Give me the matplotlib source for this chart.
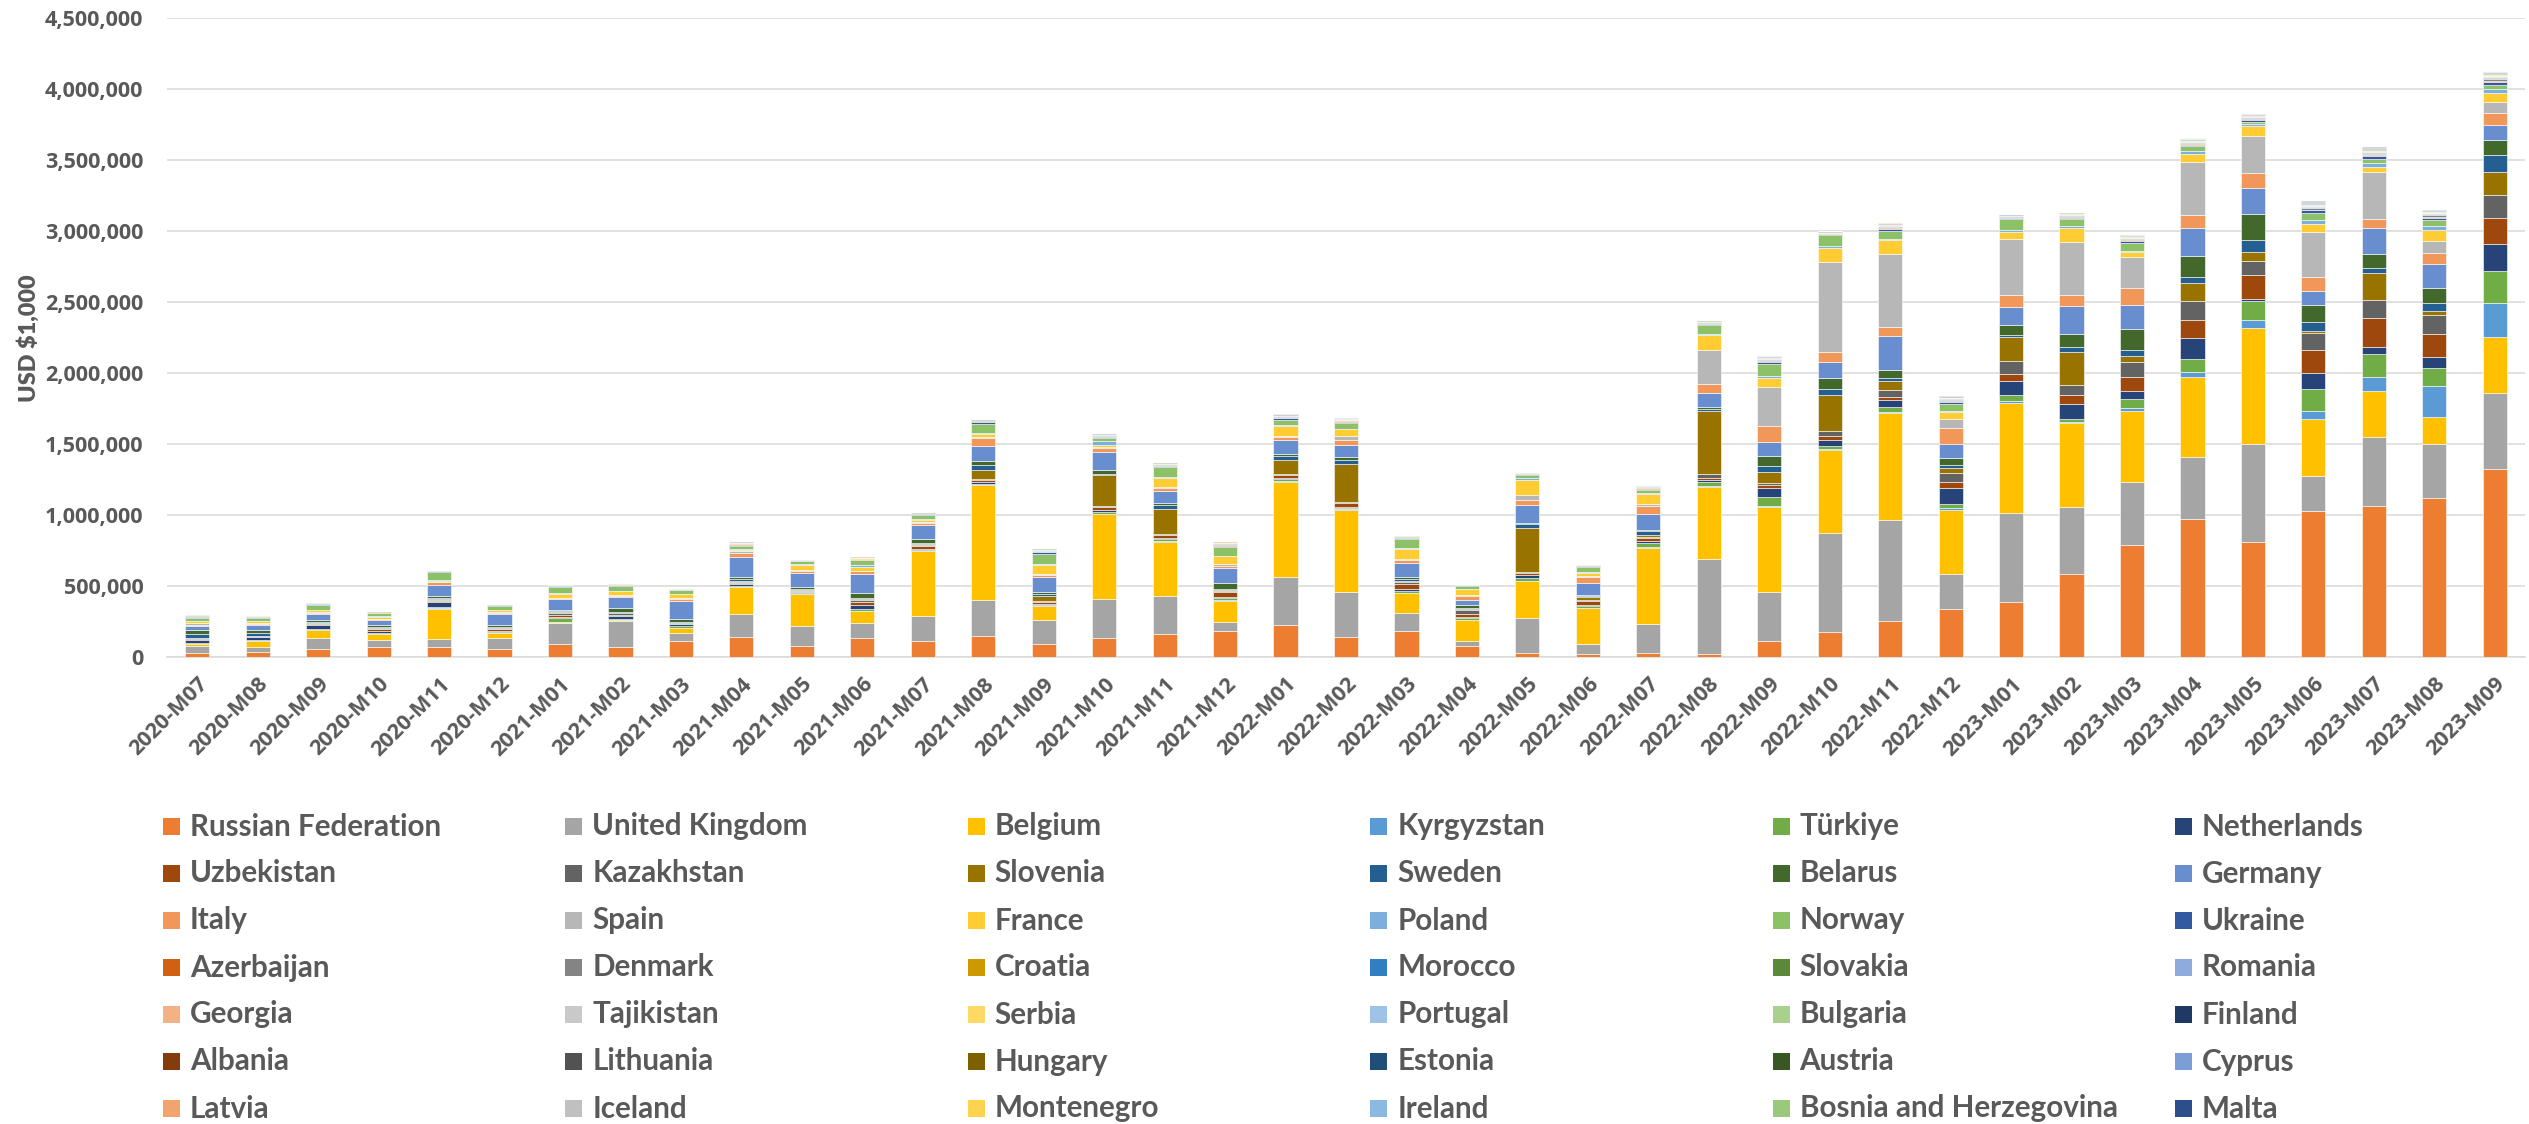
import matplotlib
matplotlib.use("Agg")
import matplotlib.pyplot as plt
from matplotlib.patches import Rectangle
from matplotlib.ticker import FuncFormatter
import numpy as np

# ---------------- DATA (values in thousands of "USD $1,000" units) ----------------
months = ["2020-M07", "2020-M08", "2020-M09", "2020-M10", "2020-M11", "2020-M12",
          "2021-M01", "2021-M02", "2021-M03", "2021-M04", "2021-M05", "2021-M06",
          "2021-M07", "2021-M08", "2021-M09", "2021-M10", "2021-M11", "2021-M12",
          "2022-M01", "2022-M02", "2022-M03", "2022-M04", "2022-M05", "2022-M06",
          "2022-M07", "2022-M08", "2022-M09", "2022-M10", "2022-M11", "2022-M12",
          "2023-M01", "2023-M02", "2023-M03", "2023-M04", "2023-M05", "2023-M06",
          "2023-M07", "2023-M08", "2023-M09"]

russia = [30,38,59,68,73,54,89,73,115,138,80,136,115,150,91,136,164,180,222,143,185,77,30,21,30,21,115,178,255,340,389,588,787,974,808,1026,1061,1120,1325]
uk = [45,30,77,52,52,82,148,180,56,162,141,101,174,251,169,269,267,70,342,316,122,37,248,68,199,672,344,696,707,248,625,468,447,431,691,247,486,381,536]
belgium = [16,42,54,42,216,30,9,9,33,190,220,84,455,810,101,600,379,145,667,578,141,145,255,253,541,504,597,585,754,450,778,590,499,569,821,403,328,192,394]
kyrgyzstan = [2,2,2,2,3,2,3,2,3,3,3,3,3,4,3,4,4,4,5,4,4,3,4,5,5,6,9,6,9,14,14,9,21,34,52,57,100,217,236]
turkiye = [4,5,5,5,5,9,23,5,14,5,6,14,6,6,5,14,16,14,16,8,16,16,19,12,28,28,61,23,33,28,37,19,60,93,135,151,156,122,225]
netherlands = [25,23,30,15,37,7,10,23,8,19,5,30,8,8,5,14,8,10,8,8,8,5,19,10,14,19,63,42,52,110,103,108,60,145,16,114,50,81,194]
uzbekistan = [5,4,5,10,10,14,16,5,4,5,4,16,19,19,14,19,19,33,23,28,35,23,16,23,19,10,23,23,19,44,47,66,96,130,166,161,203,161,183]
kazakhstan = [5,5,5,8,5,5,12,12,5,6,8,19,8,8,6,6,6,8,8,8,16,28,8,8,12,26,16,42,52,63,89,68,104,130,99,122,128,136,164]
slovenia = [3,2,3,3,4,3,4,4,4,5,4,5,6,61,37,220,178,8,94,269,8,6,310,21,8,445,77,248,66,33,169,230,44,130,62,13,192,28,156]
sweden = [30,18,10,8,8,5,8,6,6,19,5,8,8,33,12,8,30,6,30,23,12,6,30,8,28,12,40,42,19,23,14,40,42,42,88,65,33,56,125]
belarus = [25,20,14,12,20,14,8,28,19,12,19,35,28,28,14,28,16,42,12,23,16,19,6,6,8,19,68,80,56,47,70,89,148,148,182,117,103,103,103]
germany = [28,33,36,36,77,80,75,76,128,141,100,136,103,110,103,124,80,110,101,87,100,37,122,84,117,98,98,115,239,101,131,194,169,195,182,101,178,169,103]
italy = [10,12,9,6,16,8,9,6,14,26,12,16,14,56,16,30,23,14,23,35,19,28,42,44,52,66,117,70,61,112,80,77,125,93,104,101,69,81,89]
spain = [8,5,5,4,5,4,5,5,5,12,5,6,6,8,6,8,8,8,8,26,8,5,33,8,19,234,274,632,515,61,398,379,213,374,265,317,328,86,75]
france = [15,12,14,12,7,12,23,30,28,12,36,28,14,19,68,14,61,56,66,47,72,42,103,23,66,108,66,101,98,52,52,98,34,57,65,57,39,75,67]
poland = [5,4,4,4,4,4,9,4,5,6,5,8,5,9,5,28,8,6,6,6,9,4,14,5,12,9,9,8,9,9,8,9,13,21,18,26,28,28,25]
norway = [18,20,35,20,58,28,42,35,24,23,22,35,28,61,73,19,70,61,35,37,61,22,23,37,19,59,89,80,56,47,80,52,57,31,16,52,28,42,28]
ukraine = [7,5,4,3,3,3,4,4,3,7,3,6,4,16,8,7,7,9,14,9,6,2,5,4,8,7,12,6,13,13,8,10,11,10,12,15,16,16,19]
azerbaijan = [3,2,2,1,1,1,2,1,1,3,1,2,2,2,3,3,3,4,4,4,2,1,2,2,3,3,5,2,5,5,3,4,4,4,5,6,6,6,8]
denmark = [4,3,2,2,2,2,3,2,2,4,2,4,2,4,5,4,4,5,6,5,4,1,3,3,5,4,7,3,8,8,5,6,7,6,7,9,9,10,12]
croatia = [2,1,1,1,1,1,1,1,1,2,1,2,1,1,2,2,2,2,2,2,2,1,1,1,2,2,3,1,3,3,2,3,3,3,3,4,4,4,5]
morocco = [2,1,1,1,1,1,1,1,1,2,1,2,1,1,2,2,2,2,2,2,1,0,1,1,2,2,3,2,3,3,2,3,3,3,3,4,4,4,5]
slovakia = [2,1,1,1,1,1,1,1,1,2,1,1,1,1,2,2,2,3,3,2,2,1,1,1,2,2,3,1,3,4,2,2,3,2,3,4,4,4,5]
romania = [1,1,1,1,1,1,1,1,1,1,0,1,1,1,2,1,1,2,2,2,1,0,1,1,2,1,2,1,3,3,2,2,2,2,2,3,3,3,4]
georgia = [1,1,1,0,1,1,1,1,0,1,1,1,1,1,1,2,1,2,2,2,1,1,1,1,1,2,3,1,2,2,2,2,2,2,3,3,3,3,4]
tajikistan = [1,1,1,0,0,0,1,1,0,1,0,1,0,1,1,1,1,1,1,1,1,0,1,1,1,1,2,1,2,2,1,2,2,2,2,2,2,2,3]
serbia = [1,1,1,1,1,1,1,1,1,1,1,1,1,1,2,1,1,2,2,2,1,0,1,1,2,1,2,1,3,3,2,2,2,2,2,3,3,3,4]
portugal = [1,1,1,0,1,0,1,1,1,1,0,1,1,1,1,1,1,1,1,1,1,0,1,1,1,1,2,1,2,2,1,2,2,2,2,2,2,2,3]
bulgaria = [2,1,1,1,1,1,1,1,1,2,1,2,1,1,2,2,2,2,2,2,2,1,1,1,2,2,3,1,3,3,2,3,3,3,3,4,4,4,5]
finland = [1,1,1,1,0,1,1,0,1,1,0,1,1,1,1,1,1,1,1,1,1,0,1,1,1,1,2,1,2,2,1,2,2,2,2,2,2,2,3]
albania = [1,0,0,0,0,0,0,0,0,1,0,1,0,1,1,1,1,1,1,1,1,0,1,0,1,1,1,1,1,1,1,1,1,1,1,2,2,2,2]
lithuania = [1,1,1,1,1,0,1,1,1,1,0,1,1,1,1,1,1,1,1,1,1,0,1,1,1,1,2,1,2,2,1,2,2,2,2,2,2,2,3]
hungary = [1,0,0,0,0,0,0,0,0,1,0,1,0,1,1,1,1,1,1,1,1,0,1,0,1,1,1,1,1,1,1,1,1,1,1,2,2,2,2]
estonia = [0,1,0,0,0,0,0,0,0,1,0,1,0,1,1,1,1,1,1,1,0,0,0,0,1,1,1,1,1,1,1,1,1,1,1,2,2,2,2]
austria = [1,0,0,0,0,0,0,0,0,1,0,0,0,0,1,1,1,1,1,1,0,0,1,1,1,1,1,0,1,1,1,1,1,1,1,2,2,2,2]
cyprus = [0,0,0,0,0,0,0,0,0,0,0,0,0,0,0,0,0,1,1,1,0,0,0,0,0,0,1,0,1,1,0,1,1,1,1,1,1,1,1]
latvia = [0,0,0,0,0,0,0,0,0,0,0,0,0,0,0,0,0,0,1,1,0,0,0,0,0,0,1,0,1,1,0,1,1,1,1,1,1,1,1]
iceland = [0,0,0,0,0,0,0,0,0,0,0,0,0,0,0,0,0,0,0,0,0,0,0,0,0,0,1,0,1,1,0,1,1,1,1,1,1,1,1]
montenegro = [0,0,0,0,0,0,0,0,0,0,0,0,0,0,0,0,0,0,0,0,0,0,0,0,0,0,0,0,1,1,0,0,1,1,1,1,1,1,1]
ireland = [0,0,0,0,0,0,0,0,0,0,0,0,0,0,0,0,0,0,0,0,0,0,0,0,0,0,1,0,1,1,0,1,1,1,1,1,1,1,1]
bosnia = [0,0,0,0,0,0,0,0,0,0,0,0,0,0,0,0,0,0,0,0,0,0,0,0,0,0,0,0,1,1,0,0,1,1,1,1,1,1,1]
malta = [0,0,0,0,0,0,0,0,0,0,0,0,0,0,0,0,0,0,0,0,0,0,0,0,0,0,0,0,0,0,0,0,1,1,1,1,1,1,1]

series_names = ["Russian Federation", "United Kingdom", "Belgium", "Kyrgyzstan", "Türkiye", "Netherlands",
                "Uzbekistan", "Kazakhstan", "Slovenia", "Sweden", "Belarus", "Germany",
                "Italy", "Spain", "France", "Poland", "Norway", "Ukraine",
                "Azerbaijan", "Denmark", "Croatia", "Morocco", "Slovakia", "Romania",
                "Georgia", "Tajikistan", "Serbia", "Portugal", "Bulgaria", "Finland",
                "Albania", "Lithuania", "Hungary", "Estonia", "Austria", "Cyprus",
                "Latvia", "Iceland", "Montenegro", "Ireland", "Bosnia and Herzegovina", "Malta"]
series_values = [russia, uk, belgium, kyrgyzstan, turkiye, netherlands,
                 uzbekistan, kazakhstan, slovenia, sweden, belarus, germany,
                 italy, spain, france, poland, norway, ukraine,
                 azerbaijan, denmark, croatia, morocco, slovakia, romania,
                 georgia, tajikistan, serbia, portugal, bulgaria, finland,
                 albania, lithuania, hungary, estonia, austria, cyprus,
                 latvia, iceland, montenegro, ireland, bosnia, malta]
series_colors = ["#ED7D31", "#A5A5A5", "#FFC000", "#5B9BD5", "#70AD47", "#264478",
                 "#9E480E", "#636363", "#997300", "#255E91", "#43682B", "#698ED0",
                 "#F1975A", "#B7B7B7", "#FFCD33", "#7CAFDD", "#8CC168", "#335AA1",
                 "#D26012", "#848484", "#CC9A00", "#327EC2", "#5A8A39", "#8FAADC",
                 "#F4B183", "#C9C9C9", "#FFD966", "#9DC3E6", "#A9D18E", "#203864",
                 "#843C0C", "#525252", "#7F6000", "#1F4E79", "#385723", "#7C9DD6",
                 "#F2A46F", "#C0C0C0", "#FFD34D", "#8CB9E2", "#9AC97B", "#2C4F8C"]
UNIT = 1000

# ---------------- FIGURE ----------------
W, H = 2529, 1124
DPI = 100
TXT = "#595959"
GRID = "#D9D9D9"

fig = plt.figure(figsize=(W / DPI, H / DPI), dpi=DPI)
fig.patch.set_facecolor("white")

ax_l, ax_r, ax_t, ax_b = 167, 2525, 18, 657
ax = fig.add_axes([ax_l / W, 1 - ax_b / H, (ax_r - ax_l) / W, (ax_b - ax_t) / H])

x = np.arange(len(months))
bottom = np.zeros(len(months))
for name, vals, col in zip(series_names, series_values, series_colors):
    v = np.array(vals, dtype=float) * UNIT
    ax.bar(x, v, width=0.4, bottom=bottom, color=col, edgecolor="white",
           linewidth=0.4, label=name, zorder=3)
    bottom += v

ax.set_xlim(-0.5, len(months) - 0.5)
ax.set_ylim(0, 4500000)
ax.set_yticks(np.arange(0, 4500001, 500000))
ax.yaxis.set_major_formatter(FuncFormatter(lambda v, p: f"{v:,.0f}"))
ax.yaxis.grid(True, color=GRID, linewidth=1.1, zorder=0)
ax.set_axisbelow(True)
for s in ["top", "right", "left"]:
    ax.spines[s].set_visible(False)
ax.spines["bottom"].set_color(GRID)
ax.spines["bottom"].set_linewidth(1.1)
ax.tick_params(axis="both", length=0)

fig.canvas.draw()
rend = fig.canvas.get_renderer()


def fit_size(text, family, weight, target_px, base=20.0):
    t = fig.text(0, 0, text, fontsize=base, family=family, weight=weight)
    w = t.get_window_extent(renderer=rend).width
    t.remove()
    return base * target_px / w


TICK_FAM = ["Open Sans", "DejaVu Sans"]
LEG_FAM = ["Lato", "DejaVu Sans"]
YLAB = "USD \\$1,000"
tick_fs = fit_size("1,500,000", TICK_FAM, "bold", 99)
leg_fs = fit_size("Russian Federation", LEG_FAM, "bold", 252)
ylab_fs = fit_size(YLAB, LEG_FAM, "bold", 128)

ax.set_xticks(x)
ax.set_xticklabels(months, rotation=45, ha="right", va="top", rotation_mode="anchor",
                   fontsize=tick_fs, family=TICK_FAM, weight="bold", color=TXT)
ax.tick_params(axis="x", pad=12)
for lab in ax.get_yticklabels():
    lab.set_fontsize(tick_fs)
    lab.set_family(TICK_FAM)
    lab.set_weight("bold")
    lab.set_color(TXT)
ax.tick_params(axis="y", pad=17)

fig.text(29 / W, 1 - 338 / H, YLAB, rotation=90, ha="center", va="center",
         fontsize=ylab_fs, family=LEG_FAM, weight="heavy", color=TXT)

# ---------------- LEGEND (6 columns, row-major like the source) ----------------
col_x0, col_dx = 163, 402.4
row_y0, row_dy = 826, 47.0
sw = 17
for k, (name, col) in enumerate(zip(series_names, series_colors)):
    r_, c_ = divmod(k, 6)
    xs = col_x0 + c_ * col_dx
    yc = row_y0 + r_ * row_dy
    fig.patches.append(Rectangle((xs / W, 1 - (yc + sw / 2) / H), sw / W, sw / H,
                                 transform=fig.transFigure, facecolor=col,
                                 edgecolor="none"))
    fig.text((xs + 27) / W, 1 - (yc + 9.5) / H, name, ha="left", va="baseline",
             fontsize=leg_fs, family=LEG_FAM, weight="bold", color=TXT)

fig.savefig("out.png", dpi=DPI)
